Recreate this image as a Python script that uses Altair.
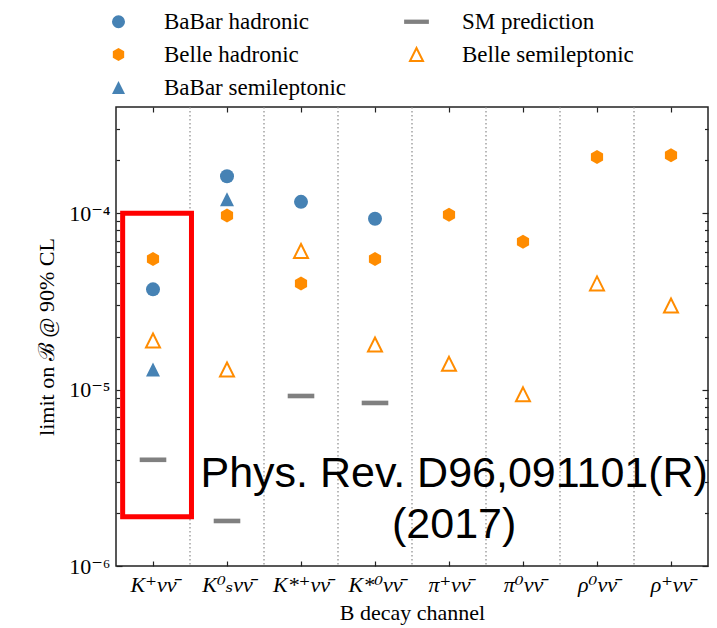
import json

import altair as alt
import pandas as pd

# Decay channels along the x axis
channels = ["K⁺νν̄", "K⁰ₛνν̄", "K*⁺νν̄", "K*⁰νν̄", "π⁺νν̄", "π⁰νν̄", "ρ⁰νν̄", "ρ⁺νν̄"]

# Upper limits on the branching fraction (90% CL) and SM expectations
babar_hadronic = [3.7e-5, 1.62e-4, 1.16e-4, 9.3e-5, None, None, None, None]
belle_hadronic = [5.5e-5, 9.7e-5, 4.0e-5, 5.5e-5, 9.8e-5, 6.9e-5, 2.08e-4, 2.13e-4]
babar_semileptonic = [1.3e-5, 1.2e-4, None, None, None, None, None, None]
belle_semileptonic = [1.9e-5, 1.3e-5, 6.1e-5, 1.8e-5, 1.4e-5, 9.4e-6, 4.0e-5, 3.0e-5]
sm_prediction = [4.0e-6, 1.8e-6, 9.2e-6, 8.4e-6, None, None, None, None]

# Highlight box around the charged-kaon channel
box_x = [-0.41, 0.52]
box_y = [1.9e-6, 1.0e-4]

# Reference note
note_lines = ["Phys. Rev. D96,091101(R)", "(2017)"]
note_x = [4.07, 4.07]
note_y = [2.8e-6, 1.44e-6]

# Axis tick values
major_ticks = [1e-6, 1e-5, 1e-4]
minor_ticks = [k * 10.0 ** e for e in (-6, -5, -4) for k in range(2, 10) if k * 10.0 ** e < 3.5e-4]
separators = [i + 0.5 for i in range(len(channels) - 1)]

BLUE = "#4682B4"
ORANGE = "#FF8C00"
GREY = "#808080"
SERIF = "Liberation Serif, DejaVu Serif, serif"

# Legend order: two columns, filled column by column
series_order = ["BaBar hadronic", "Belle hadronic", "BaBar semileptonic",
                "SM prediction", "Belle semileptonic"]
HEX = "M0,-1L0.87,-0.5L0.87,0.5L0,1L-0.87,0.5L-0.87,-0.5Z"
TRI = "M0,-1L1,1L-1,1Z"
BAR = "M-1.9,-0.33H1.9V0.33H-1.9Z"
series_shapes = ["circle", HEX, TRI, BAR, TRI]
series_fill = [BLUE, ORANGE, BLUE, GREY, "transparent"]
series_stroke = ["transparent", "transparent", "transparent", "transparent", ORANGE]

rows = []
for name, vals in [("BaBar hadronic", babar_hadronic), ("Belle hadronic", belle_hadronic),
                   ("BaBar semileptonic", babar_semileptonic),
                   ("Belle semileptonic", belle_semileptonic),
                   ("SM prediction", sm_prediction)]:
    for i, v in enumerate(vals):
        if v is not None:
            rows.append({"idx": i, "value": v, "series": name})
points_df = pd.DataFrame(rows)
sep_df = pd.DataFrame({"idx": separators})
box_df = pd.DataFrame({"x1": [box_x[0]], "x2": [box_x[1]], "y1": [box_y[0]], "y2": [box_y[1]]})
note_df = pd.DataFrame({"x": note_x, "y": note_y, "text": note_lines})

W, H = 592, 459
x_scale = alt.Scale(domain=[-0.5, 7.5], nice=False, zero=False)
y_scale = alt.Scale(type="log", domain=[1e-6, 4e-4], nice=False)

label_expr = json.dumps(channels, ensure_ascii=False) + "[datum.value]"
x_vals = list(range(len(channels)))
y_vals = major_ticks + minor_ticks
is_major = "abs(log(datum.value)/LN10 - round(log(datum.value)/LN10)) < 0.001"
y_tick_size = {"condition": {"test": is_major, "value": 6}, "value": 3.5}
FRAME = "#222222"

x_label_axis = alt.Axis(orient="bottom", values=x_vals, labelExpr=label_expr, ticks=False,
                        tickSize=0, domain=False, grid=False, labelFont=SERIF,
                        labelFontSize=22, labelFontStyle="italic", labelPadding=8,
                        labelColor="black", title="B decay channel", titleFont=SERIF,
                        titleFontSize=22, titleFontWeight="normal", titleColor="black",
                        titlePadding=7)
x_ticks_bottom = alt.Axis(orient="top", offset=-H, values=x_vals, labels=False, domain=False,
                          grid=False, tickSize=5, tickColor=FRAME, tickWidth=1.2, title=None)
x_ticks_top = alt.Axis(orient="bottom", offset=-H, values=x_vals, labels=False, domain=False,
                       grid=False, tickSize=5, tickColor=FRAME, tickWidth=1.2, title=None)

y_label_axis = alt.Axis(orient="left", values=major_ticks,
                        labelExpr="datum.value < 3e-6 ? '10⁻⁶' : datum.value < 3e-5 ? '10⁻⁵' : '10⁻⁴'",
                        ticks=False, tickSize=0, domain=False, grid=False, labelFont=SERIF,
                        labelFontSize=22, labelPadding=6, labelColor="black",
                        title="limit on ℬ @ 90% CL", titleFont=SERIF, titleFontSize=22,
                        titleFontWeight="normal", titleColor="black", titlePadding=10)
y_ticks_left = alt.Axis(orient="right", offset=-W, values=y_vals, labels=False, domain=False,
                        grid=False, tickSize=y_tick_size, tickColor=FRAME, tickWidth=1.2,
                        title=None)
y_ticks_right = alt.Axis(orient="left", offset=-W, values=y_vals, labels=False, domain=False,
                         grid=False, tickSize=y_tick_size, tickColor=FRAME, tickWidth=1.2,
                         title=None)

legend = alt.Legend(title=None, orient="none", legendX=-9, legendY=-97, columns=2,
                    padding=0, labelFont=SERIF, labelFontSize=23, labelColor="black",
                    labelLimit=400, symbolSize=170, symbolStrokeWidth=2, labelOffset=34,
                    rowPadding=9, columnPadding=53)

seps = alt.Chart(sep_df).mark_rule(color="#8a8a8a", strokeDash=[1.5, 2.5], strokeWidth=1.2).encode(
    x=alt.X("idx:Q", scale=x_scale, axis=x_label_axis),
)

box = alt.Chart(box_df).mark_rect(filled=False, stroke="#FF0000", strokeWidth=5).encode(
    x=alt.X("x1:Q", scale=x_scale, axis=x_ticks_bottom),
    x2="x2:Q",
    y=alt.Y("y1:Q", scale=y_scale, axis=y_label_axis),
    y2="y2:Q",
)

pts = alt.Chart(points_df).mark_point(opacity=1, size=196, strokeWidth=2).encode(
    x=alt.X("idx:Q", scale=x_scale, axis=x_ticks_top),
    y=alt.Y("value:Q", scale=y_scale, axis=y_ticks_left),
    shape=alt.Shape("series:N", scale=alt.Scale(domain=series_order, range=series_shapes),
                    legend=legend),
    fill=alt.Fill("series:N", scale=alt.Scale(domain=series_order, range=series_fill),
                  legend=legend),
    stroke=alt.Stroke("series:N", scale=alt.Scale(domain=series_order, range=series_stroke),
                      legend=legend),
)

note = alt.Chart(note_df).mark_text(font="Liberation Sans", fontSize=43,
                                    color="black", align="center", baseline="alphabetic").encode(
    x=alt.X("x:Q", scale=x_scale, axis=None),
    y=alt.Y("y:Q", scale=y_scale, axis=y_ticks_right),
    text="text:N",
)

chart = (
    alt.layer(seps, pts, box, note)
    .resolve_axis(x="independent", y="independent")
    .properties(width=W, height=H, autosize=alt.AutoSizeParams(type="none"),
                padding={"left": 116, "top": 107, "right": 9, "bottom": 62},
                background="white")
    .configure(font=SERIF)
    .configure_view(stroke=FRAME, strokeWidth=1.5)
    .configure_legend(labelFont=SERIF)
)

chart.save("out.html", embed_options={"renderer": "svg", "actions": False})
